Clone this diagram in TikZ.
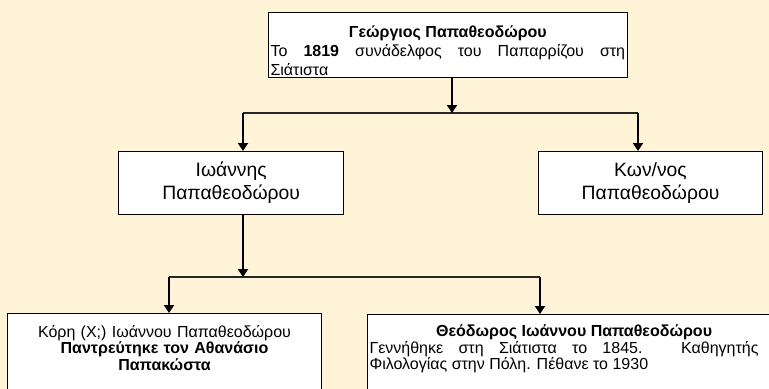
\documentclass[tikz,border=0pt]{standalone}
\usepackage{fontspec}
\setmainfont{Liberation Sans}
\usetikzlibrary{arrows.meta,positioning}

\definecolor{cream}{RGB}{255,244,216}
\tikzset{
	person/.style={draw=black,fill=white,line width=0.75pt,anchor=north west,inner xsep=1.5pt,inner ysep=0pt},
	stem/.style={line width=2.2pt,black},
	bar/.style={line width=1.5pt,black!85},
	tip/.style={-{Triangle[width=7.5pt,length=6pt]}}
}

\begin{document}
\begin{tikzpicture}[x=0.75pt,y=-0.75pt]
		% background
		\fill[cream] (0,0) rectangle (769,389);
		\useasboundingbox (0,0) rectangle (769,389);
		%% the people
		\node[person,text width=266pt,minimum height=48.75pt,align=justify,font=\fontsize{12}{14.25}\selectfont] (georgios) at (268,12)
			{\rule{0pt}{18.75pt}{\centering\bfseries Γεώργιος Παπαθεοδώρου\par}
			Το \textbf{1819} συνάδελφος του Παπαρρίζου στη\linebreak Σιάτιστα\rule[-1.5pt]{0pt}{0pt}};
		\node[person,text width=166pt,minimum height=47.25pt,align=center,font=\fontsize{14.5}{17.25}\selectfont] (ioannis) at (118,151)
			{Ιωάννης\\Παπαθεοδώρου};
		\node[person,text width=165pt,minimum height=47.25pt,align=center,font=\fontsize{14.5}{17.25}\selectfont] (konnos) at (538,151)
			{Κων/νος\\Παπαθεοδώρου};
		\node[person,text width=232.5pt,align=center,font=\fontsize{12}{11}\selectfont] (kori) at (7,313)
			{\rule{0pt}{18pt}Κόρη (Χ;) Ιωάννου Παπαθεοδώρου\\\bfseries Παντρεύτηκε τον Αθανάσιο\\Παπακώστα\rule[-40pt]{0pt}{0pt}};
		\node[person,text width=315pt,align=justify,font=\fontsize{12}{11}\selectfont] (theodoros) at (367,314)
			{\rule{0pt}{16.5pt}\hspace*{50pt}\textbf{Θεόδωρος Ιωάννου Παπαθεοδώρου}\par
			\rightskip=23.25pt Γεννήθηκε στη Σιάτιστα το 1845. Καθηγητής\linebreak Φιλολογίας στην Πόλη. Πέθανε το 1930\rule[-40pt]{0pt}{0pt}\par};
		%% the forks
		\coordinate (fork1) at (452,113);
		\coordinate (fork1L) at (243,113);
		\coordinate (fork1R) at (638,113);
		\coordinate (fork2) at (243,277);
		\coordinate (fork2L) at (169,277);
		\coordinate (fork2R) at (540,277);
		\draw[bar] (fork1L) -- (fork1R);
		\draw[bar] (fork2L) -- (fork2R);
		\draw[stem,tip] (georgios.south -| fork1) -- (fork1);
		\draw[stem,tip] (fork1L) -- (fork1L |- ioannis.north);
		\draw[stem,tip] (fork1R) -- (fork1R |- konnos.north);
		\draw[stem,tip] (ioannis.south -| fork2) -- (fork2);
		\draw[stem,tip] (fork2L) -- (fork2L |- kori.north);
		\draw[stem,tip] (fork2R) -- (fork2R |- theodoros.north);
\end{tikzpicture}
\end{document}
